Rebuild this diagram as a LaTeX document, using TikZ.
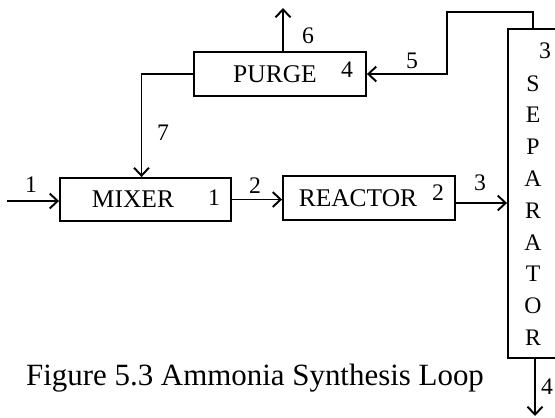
\documentclass[tikz,border=0pt]{standalone}
\usepackage{fontspec}
\setmainfont{Liberation Serif}
\usepackage{tikz}
\usetikzlibrary{arrows.meta}

\tikzset{
  unit/.style={draw, line width=1.1pt, minimum width=3.44cm, minimum height=0.88cm,
    inner sep=0pt, font=\fontsize{14.5}{16}\selectfont},
  num/.style={anchor=base, inner sep=0pt, font=\fontsize{13.5}{15}\selectfont},
  stream/.style={line width=1.1pt, -{Straight Barb[length=4.5pt,width=8.5pt]}}
}

\begin{document}
\begin{tikzpicture}[x=0.02cm, y=-0.02cm]
\clip (0,0) rectangle (555,417);
% Units
\node[unit, minimum width=3.42cm, minimum height=0.86cm] (mixer) at (145.5,199.5) {MIXER\hspace{0.5cm}\null};
\node[unit] (reactor) at (369,198) {REACTOR\hspace{0.44cm}\null};
\node[unit] (purge) at (280,74) {PURGE\hspace{0.2cm}\null};
\node[draw, line width=1.1pt, minimum width=1.84cm, minimum height=6.58cm, inner sep=0pt]
  (sep) at (554,193.5) {};
\node[anchor=north, inner sep=0pt, align=center, font=\fontsize{13.5}{18.1}\selectfont]
  (septext) at (533,75) {S\\E\\P\\A\\R\\A\\T\\O\\R};
% Unit numbers
\node[num] (n1) at (214,205) {1};
\node[num] (n2) at (438,200) {2};
\node[num] (n4) at (347,77) {4};
\node[num] (n3) at (545,58) {3};
% Streams
\coordinate (in1) at (7,201);
\coordinate (turn5) at (447,12);
\coordinate (out6) at (283,8);
\coordinate (out4) at (535,416);
\draw[stream] (in1) -- (in1 -| mixer.west);
\draw[stream] (mixer.east) -- (mixer.east -| reactor.west);
\draw[stream] ([yshift=-0.1cm]reactor.east) -- ([yshift=-0.1cm]reactor.east -| sep.west);
\draw[stream] (septext |- sep.north) |- (turn5) |- (purge.east);
\draw[stream] (out6 |- purge.north) -- (out6);
\draw[stream] (purge.west) -| ([xshift=-0.08cm]mixer.north);
\draw[stream] (out4 |- sep.south) -- (out4);
% Stream numbers
\node[num] (s1) at (31,192) {1};
\node[num] (s2) at (255,193) {2};
\node[num] (s3) at (480,190) {3};
\node[num] (s5) at (412,68) {5};
\node[num] (s6) at (308,43) {6};
\node[num] (s7) at (163,140) {7};
\node[num] (s4) at (547,394) {4};
% Caption
\node[anchor=base, font=\fontsize{17.6}{20}\selectfont] (caption) at (255,385)
  {Figure 5.3 Ammonia Synthesis Loop};
\end{tikzpicture}
\end{document}
